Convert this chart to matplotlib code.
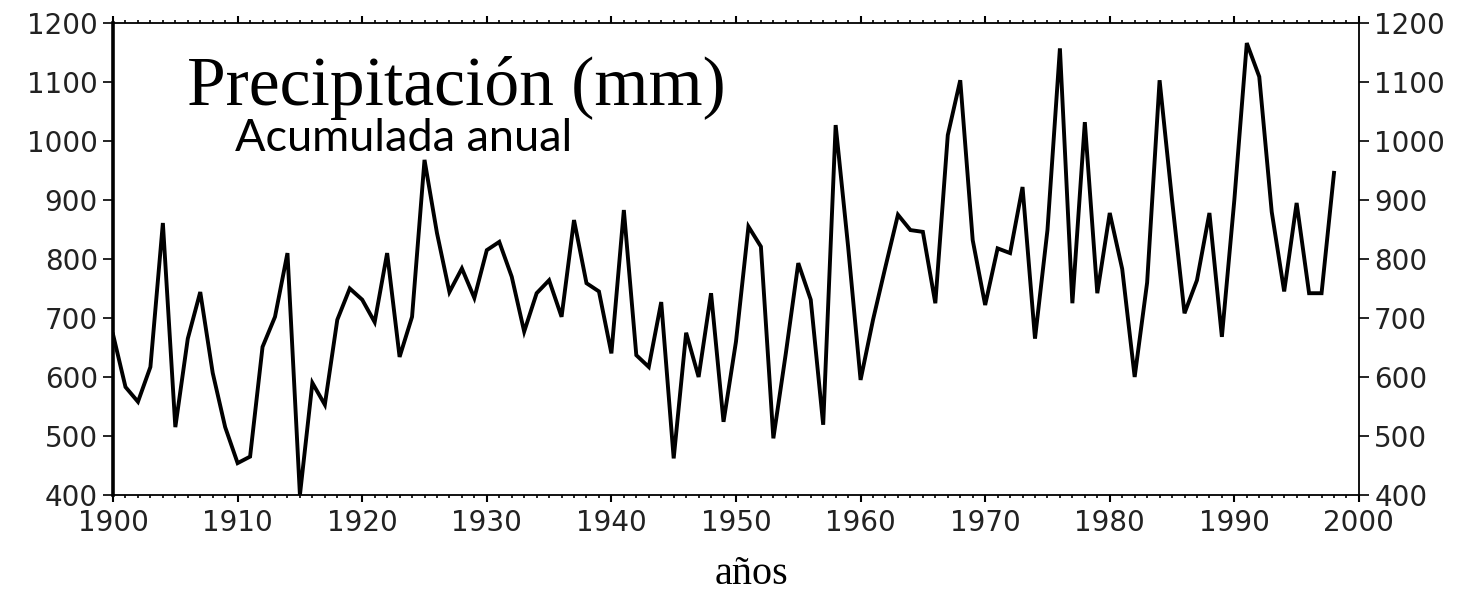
import numpy as np
import matplotlib.pyplot as plt
from matplotlib.ticker import MultipleLocator

years = np.arange(1900, 1999)
precip = [672, 583, 558, 617, 861, 515, 665, 744, 607, 515,
          454, 465, 651, 702, 810, 400, 590, 553, 697, 750,
          731, 693, 810, 634, 702, 968, 844, 744, 784, 734,
          815, 829, 770, 677, 742, 764, 702, 866, 759, 745,
          640, 883, 637, 617, 727, 462, 675, 600, 742, 524,
          660, 855, 821, 496, 640, 793, 731, 519, 1027, 821,
          595, 697, 787, 875, 849, 846, 725, 1010, 1103, 832,
          722, 818, 810, 922, 665, 849, 1157, 725, 1032, 742,
          878, 783, 600, 760, 1103, 900, 708, 764, 878, 668,
          900, 1166, 1109, 880, 745, 895, 742, 742, 946]

title = "Precipitación (mm)"
subtitle = "Acumulada anual"
xlabel = "años"

fig = plt.figure(figsize=(14.68, 5.96), dpi=100)
ax = fig.add_axes([0.077, 0.1695, 0.8487, 0.7919])

ax.plot(years, precip, color='black', lw=2.8, solid_joinstyle='miter')

ax.set_xlim(1900, 2000)
ax.set_ylim(400, 1200)
ax.xaxis.set_major_locator(MultipleLocator(10))
ax.xaxis.set_minor_locator(MultipleLocator(1))
ax.yaxis.set_major_locator(MultipleLocator(100))

# ticks outward, labels on both sides of y
ax.tick_params(axis='x', which='major', direction='out', length=5, width=1.5,
               top=True, labelsize=20, pad=5, labelcolor='#222222')
ax.tick_params(axis='x', which='minor', direction='out', length=2.5, width=1.2, top=True)
ax.tick_params(axis='y', which='major', direction='out', length=7, width=1.2,
               right=True, labelright=True, labelsize=20, pad=4, labelcolor='#222222')

for s in ['top', 'bottom', 'right']:
    ax.spines[s].set_linewidth(1.3)
ax.spines['left'].set_linewidth(2.6)

ax.text(1905.9, 1090, title, family='Liberation Serif', fontsize=50,
        va='center', ha='left')
ax.text(1909.8, 1005, subtitle, family='Lato', fontsize=32.5,
        va='center', ha='left')

fig.text(0.512, 0.036, xlabel, family='Liberation Serif', fontsize=29,
         ha='center', va='center')

fig.savefig('out.png', dpi=100)
